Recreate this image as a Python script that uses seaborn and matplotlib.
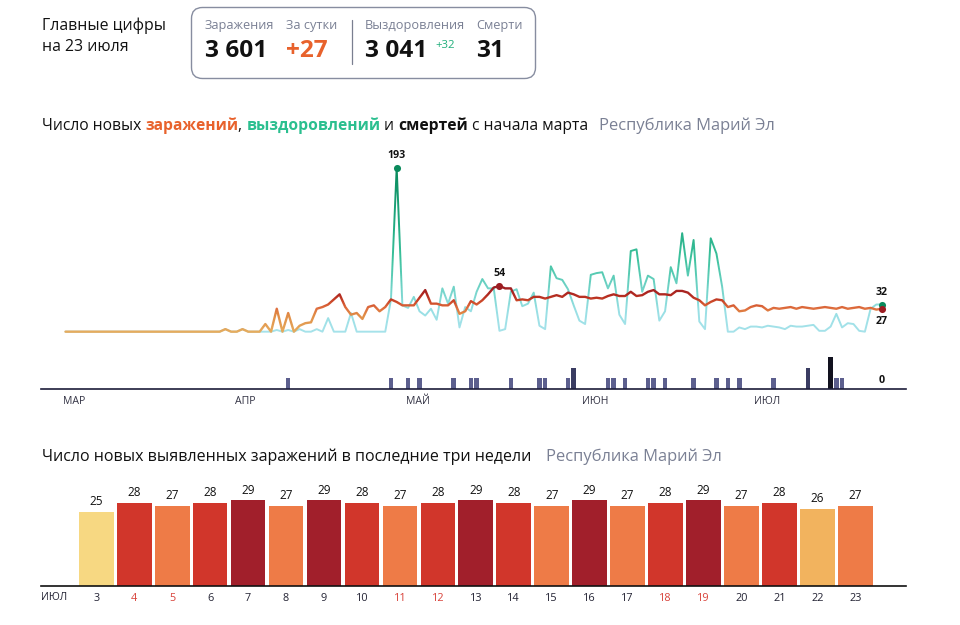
"""Coronavirus dashboard for Mari El: daily cases, recoveries, deaths."""

import pandas as pd
import matplotlib
matplotlib.use("Agg")
import matplotlib.pyplot as plt
import seaborn as sns
from matplotlib.colors import LinearSegmentedColormap, to_hex
from matplotlib.patches import FancyBboxPatch, Rectangle

# daily values, day 0 = start of March
cases = [
    0, 0, 0, 0, 0, 0, 0, 0, 0, 0, 0, 0, 0, 0, 0, 0, 0, 0, 0, 0,
    0, 0, 0, 0, 0, 0, 0, 0, 3, 0, 0, 3, 0, 0, 0, 9, 0, 27, 0, 22,
    0, 7, 10, 11, 27, 29, 32, 38, 44, 29, 20, 22, 15, 29, 31, 24, 29, 38, 35, 31,
    31, 31, 40, 49, 33, 33, 31, 31, 37, 21, 24, 36, 32, 37, 44, 52, 54, 51, 51, 37,
    38, 37, 41, 41, 39, 41, 43, 41, 46, 44, 41, 41, 39, 40, 39, 42, 44, 42, 42, 47,
    42, 43, 47, 49, 44, 44, 43, 48, 48, 46, 40, 37, 31, 35, 38, 37, 29, 31, 24, 25,
    29, 31, 30, 25, 28, 27, 28, 29, 27, 29, 28, 27, 28, 29, 28, 27, 29, 27, 28, 29,
    27, 28, 26, 27,
]
recoveries = [
    0, 0, 0, 0, 0, 0, 0, 0, 0, 0, 0, 0, 0, 0, 0, 0, 0, 0, 0, 0,
    0, 0, 0, 0, 0, 0, 0, 0, 3, 0, 0, 3, 0, 0, 0, 0, 0, 2, 0, 2,
    0, 3, 0, 0, 3, 0, 16, 0, 0, 0, 22, 0, 0, 0, 0, 0, 0, 38, 193, 31,
    28, 41, 24, 19, 27, 14, 51, 33, 53, 5, 29, 24, 47, 62, 51, 51, 1, 3, 47, 50,
    30, 33, 46, 7, 3, 77, 63, 61, 50, 31, 13, 9, 67, 69, 70, 51, 66, 20, 9, 95,
    97, 47, 66, 62, 13, 24, 76, 57, 116, 66, 108, 12, 3, 110, 92, 53, 0, 0, 5, 3,
    6, 6, 5, 7, 6, 5, 3, 7, 6, 6, 7, 8, 1, 1, 6, 21, 5, 10, 9, 1,
    0, 27, 32, 32,
]
death_days = [39, 57, 60, 62, 68, 71, 72, 78, 83, 84, 88, 89, 95, 96, 98, 102,
              103, 105, 110, 114, 116, 118, 124, 130, 134, 135, 136]
death_counts = [1, 1, 1, 1, 1, 1, 1, 1, 1, 1, 1, 2, 1, 1, 1, 1,
                1, 1, 1, 1, 1, 1, 1, 2, 3, 1, 1]
month_labels = ["МАР", "АПР", "МАЙ", "ИЮН", "ИЮЛ"]
month_days = [1.5, 31.4, 61.7, 92.8, 122.8]

july_days = ["3", "4", "5", "6", "7", "8", "9", "10", "11", "12", "13",
             "14", "15", "16", "17", "18", "19", "20", "21", "22", "23"]
july_cases = [25, 28, 27, 28, 29, 27, 29, 28, 27, 28, 29,
              28, 27, 29, 27, 28, 29, 27, 28, 26, 27]
red_days = ["4", "5", "11", "12", "18", "19"]

ORANGE = "#e8622c"
GREEN = "#2bbf8f"
GREY = "#7a8094"
NAVY = "#1c1c3a"
FONT = "Open Sans"
W, H = 960, 625


def axes_px(fig, left, top, right, bottom):
    # axes placed by pixel edges of the figure
    return fig.add_axes([left / W, 1 - bottom / H, (right - left) / W, (bottom - top) / H])


def gradient_line(ax, df, col, cmap, vmax, lw, step=2.4):
    # one seaborn line per horizontal band, clipped to it: colour follows height
    low = -30
    while low < vmax + 30:
        shade = min(max((low + step / 2) / vmax, 0), 1)
        sns.lineplot(data=df, x="day", y=col, color=to_hex(cmap(shade)), linewidth=lw,
                     estimator=None, sort=False, errorbar=None, ax=ax)
        line = ax.lines[-1]
        line.set_solid_joinstyle("round")
        line.set_clip_path(Rectangle((-10, low), 170, step, transform=ax.transData))
        low += step


def title_row(ax, x, y, parts, size=11.25):
    # text pieces of different colours, one after the other
    prev = None
    for text, color, weight in parts:
        if prev is None:
            prev = ax.annotate(text, xy=(x, y), color=color, weight=weight, fontsize=size,
                               va="center_baseline", annotation_clip=False)
        else:
            prev = ax.annotate(text, xy=(1, 0), xycoords=prev, xytext=(0, 0),
                               textcoords="offset points", color=color, weight=weight,
                               fontsize=size, va="bottom", annotation_clip=False)
    return prev


sns.set_theme(style="white")
plt.rcParams["font.family"] = [FONT, "DejaVu Sans"]
plt.rcParams["axes.unicode_minus"] = False

fig = plt.figure(figsize=(W / 100, H / 100), dpi=100, facecolor="white")

# ---- overlay in pixel coordinates: header and titles
bg = axes_px(fig, 0, 0, W, H)
bg.set_xlim(0, W); bg.set_ylim(H, 0); bg.axis("off")

bg.text(42, 26, "Главные цифры", fontsize=11.4, color="#111111", va="center")
bg.text(42, 47, "на 23 июля", fontsize=11.4, color="#111111", va="center")
bg.add_patch(FancyBboxPatch((191.5, 7.5), 344, 71, boxstyle="round,pad=0,rounding_size=11",
                            fc="white", ec="#878da0", lw=1))
bg.plot([351.5, 351.5], [20, 64], color="#7a7f90", lw=0.9)

for x, label in [(205, "Заражения"), (286, "За сутки"), (365, "Выздоровления"), (476, "Смерти")]:
    bg.text(x, 26, label, fontsize=9.2, color=GREY, va="center")
for x, label, color in [(205, "3 601", "#111111"), (286, "+27", ORANGE),
                        (365, "3 041", "#111111"), (476, "31", "#111111")]:
    bg.text(x, 51, label, fontsize=17.6, weight="bold", color=color, va="center")
bg.text(435, 46, "+32", fontsize=8.2, color="#1fae7a", va="center")

title_row(bg, 42, 124, [
    ("Число новых ", "#111111", "normal"),
    ("заражений", ORANGE, "bold"),
    (", ", "#111111", "normal"),
    ("выздоровлений", GREEN, "bold"),
    (" и ", "#111111", "normal"),
    ("смертей", "#111111", "bold"),
    (" с начала марта", "#111111", "normal"),
])
bg.text(599, 124, "Республика Марий Эл", fontsize=11.9, color=GREY, va="center_baseline")
bg.text(42, 455, "Число новых выявленных заражений в последние три недели", fontsize=11.55,
        color="#111111", va="center_baseline")
bg.text(546, 455, "Республика Марий Эл", fontsize=11.9, color=GREY, va="center_baseline")

# ---- lines
days = list(range(len(cases)))
daily = pd.DataFrame({"day": days, "cases": cases, "recoveries": recoveries})
xlim = (-4.29, 147.2)

case_cmap = LinearSegmentedColormap.from_list("cases", [
    (0.0, "#e6ac5e"), (0.37, "#e08a45"), (0.5, "#df6f3e"),
    (0.65, "#cd4a2a"), (0.78, "#b52b20"), (1.0, "#991b22")])
rec_cmap = LinearSegmentedColormap.from_list("recoveries", [
    (0.0, "#a6e2ea"), (0.12, "#98dfe4"), (0.28, "#6dd2c5"),
    (0.45, "#3cc19c"), (0.65, "#22ab82"), (1.0, "#0a8a5c")])

ax = axes_px(fig, 41, 150, 906, 340)
ax.patch.set_alpha(0)
gradient_line(ax, daily, "recoveries", rec_cmap, max(recoveries), 1.4)
gradient_line(ax, daily, "cases", case_cmap, max(cases), 1.7)
ax.set_xlim(*xlim)
ax.set_ylim(-9.8, 214)
ax.axis("off")

# highlighted points: the peaks and the last day
rec_peak = recoveries.index(max(recoveries))
case_peak = cases.index(max(cases))
sns.scatterplot(x=[rec_peak, days[-1]], y=[recoveries[rec_peak], recoveries[-1]], color="#0a8a5c",
                s=26, linewidth=0, zorder=5, ax=ax, clip_on=False)
sns.scatterplot(x=[case_peak, days[-1]], y=[cases[case_peak], cases[-1]], color="#9c1c22",
                s=26, linewidth=0, zorder=6, ax=ax, clip_on=False)
for x, y, dy, va in [(rec_peak, recoveries[rec_peak], 5, "bottom"),
                     (case_peak, cases[case_peak], 5, "bottom"),
                     (days[-1], recoveries[-1], 5, "bottom"),
                     (days[-1], cases[-1], -5, "top")]:
    ax.annotate(str(y), xy=(x, y), xytext=(0, dy), textcoords="offset points", ha="center", va=va,
                fontsize=7.7, weight="bold", color="#111111", annotation_clip=False)

# ---- deaths
deaths = pd.DataFrame({"day": days, "n": 0})
deaths.loc[death_days, "n"] = death_counts

ax2 = axes_px(fig, 41, 345, 906, 389)
ax2.patch.set_alpha(0)
sns.barplot(data=deaths, x="day", y="n", hue="n", native_scale=True, dodge=False, legend=False,
            palette={0: "#ffffff", 1: "#5c5f8e", 2: "#3a3c62", 3: "#12121f"},
            width=0.8, saturation=1, linewidth=0, ax=ax2)
ax2.set_xlim(*xlim)
ax2.set_ylim(0, 44 / 10.67)
ax2.set_xticks(month_days, month_labels, fontsize=7.6, color="#333344")
ax2.set_yticks([])
ax2.set_xlabel(""); ax2.set_ylabel("")
ax2.tick_params(axis="x", length=0, pad=5)
sns.despine(ax=ax2, left=True)
ax2.spines["bottom"].set_color(NAVY)
ax2.spines["bottom"].set_linewidth(1.2)
ax2.annotate(str(deaths["n"].iloc[-1]), xy=(days[-1], 0), xytext=(0, 2.5), textcoords="offset points",
             ha="center", va="bottom", fontsize=7.7, weight="bold", color="#111111")

# ---- last three weeks
ax3 = axes_px(fig, 41, 490, 906, 586)
ax3.patch.set_alpha(0)
sns.barplot(x=july_days, y=july_cases, hue=july_cases, dodge=False, legend=False,
            palette={25: "#f7d882", 26: "#f2b35e", 27: "#ee7b47", 28: "#d1362b", 29: "#a11f2b"},
            width=0.914, saturation=1, linewidth=0, ax=ax3)
for c in ax3.containers:
    ax3.bar_label(c, fmt="%d", padding=2.5, fontsize=8.5, color="#111111")
ax3.set_xlim(-1.457, 21.336)
ax3.set_ylim(0, 96 / 2.966)
ax3.set_yticks([])
ax3.set_xlabel(""); ax3.set_ylabel("")
ax3.set_xticks(range(len(july_days)), july_days, fontsize=7.8)
for tick, day in zip(ax3.get_xticklabels(), july_days):
    tick.set_color("#d8423a" if day in red_days else "#222233")
ax3.tick_params(axis="x", length=0, pad=5)
sns.despine(ax=ax3, left=True)
ax3.spines["bottom"].set_color("#111111")
ax3.spines["bottom"].set_linewidth(1.2)
bg.text(54, 597, "ИЮЛ", fontsize=7.6, color="#222233", ha="center", va="center")

fig.savefig("out.png", dpi=100)
